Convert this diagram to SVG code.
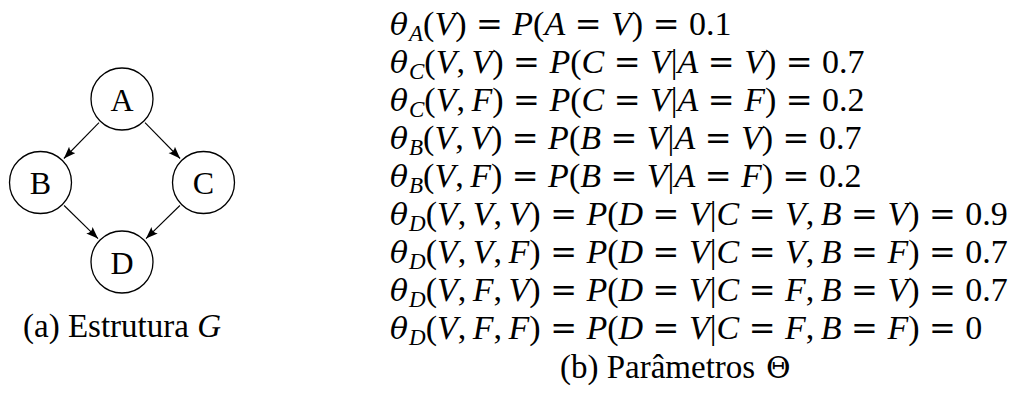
<svg xmlns="http://www.w3.org/2000/svg" width="1021" height="402" viewBox="0 0 1021 402">
<style>
  text { font-family: "Liberation Serif", "Times New Roman", serif; fill: #000; }
  .node circle { fill: #fff; stroke: #000; stroke-width: 1.3; }
  .node text { font-size: 32px; text-anchor: middle; }
  .edge { stroke: #000; stroke-width: 1.1; fill: none; marker-end: url(#arrow); }
  .m { font-size: 34px; word-spacing: 1px; }
  .i { font-style: italic; }
  .g { font-family: "DejaVu Serif", serif; font-style: italic; font-size: 30px; }
  .e { font-family: "DejaVu Serif", serif; font-size: 32px; }
  .s { font-size: 23px; font-style: italic; }
  .cap { font-size: 33px; }
  .th { font-family: "DejaVu Serif", serif; font-size: 30px; }
</style>
<defs>
  <marker id="arrow" markerUnits="userSpaceOnUse" markerWidth="13" markerHeight="10" refX="12" refY="4.5" orient="auto">
    <path d="M0,0 Q3.5,4.5 0,9 L12,4.5 Z" fill="#000"/>
  </marker>
</defs>
<g id="edges">
  <line class="edge" x1="99" y1="122.6" x2="63.9" y2="158.5"/>
  <line class="edge" x1="145" y1="122.6" x2="180.1" y2="158.5"/>
  <line class="edge" x1="64.1" y1="205.5" x2="98" y2="238.6"/>
  <line class="edge" x1="179.9" y1="205.5" x2="146" y2="238.6"/>
</g>
<g id="node-A" class="node"><circle cx="122" cy="99" r="31"/><text x="122" y="110.5">A</text></g>
<g id="node-B" class="node"><circle cx="40.5" cy="182.5" r="31"/><text x="40.5" y="194">B</text></g>
<g id="node-C" class="node"><circle cx="203.5" cy="182.5" r="31"/><text x="203.5" y="194">C</text></g>
<g id="node-D" class="node"><circle cx="122" cy="262" r="31"/><text x="122" y="273.5">D</text></g>
<text id="caption-a" class="cap" x="122" y="337" text-anchor="middle">(a) Estrutura <tspan class="i">G</tspan></text>
<g id="parameters">
  <text class="g" x="390" y="35">θ</text>
  <text class="m" x="409" y="35"><tspan class="s" dy="6">A</tspan><tspan dy="-6">(</tspan><tspan class="i">V</tspan>) <tspan class="e">=</tspan> <tspan class="i">P</tspan>(<tspan class="i">A</tspan> <tspan class="e">=</tspan> <tspan class="i">V</tspan>) <tspan class="e">=</tspan> 0.1</text>
  <text class="g" x="390" y="73">θ</text>
  <text class="m" x="409" y="73"><tspan class="s" dy="6">C</tspan><tspan dy="-6">(</tspan><tspan class="i">V</tspan>,<tspan class="i" dx="6.5">V</tspan>) <tspan class="e">=</tspan> <tspan class="i">P</tspan>(<tspan class="i">C</tspan> <tspan class="e">=</tspan> <tspan class="i">V</tspan>|<tspan class="i">A</tspan> <tspan class="e">=</tspan> <tspan class="i">V</tspan>) <tspan class="e">=</tspan> 0.7</text>
  <text class="g" x="390" y="111">θ</text>
  <text class="m" x="409" y="111"><tspan class="s" dy="6">C</tspan><tspan dy="-6">(</tspan><tspan class="i">V</tspan>,<tspan class="i" dx="6.5">F</tspan>) <tspan class="e">=</tspan> <tspan class="i">P</tspan>(<tspan class="i">C</tspan> <tspan class="e">=</tspan> <tspan class="i">V</tspan>|<tspan class="i">A</tspan> <tspan class="e">=</tspan> <tspan class="i">F</tspan>) <tspan class="e">=</tspan> 0.2</text>
  <text class="g" x="390" y="149">θ</text>
  <text class="m" x="409" y="149"><tspan class="s" dy="6">B</tspan><tspan dy="-6">(</tspan><tspan class="i">V</tspan>,<tspan class="i" dx="6.5">V</tspan>) <tspan class="e">=</tspan> <tspan class="i">P</tspan>(<tspan class="i">B</tspan> <tspan class="e">=</tspan> <tspan class="i">V</tspan>|<tspan class="i">A</tspan> <tspan class="e">=</tspan> <tspan class="i">V</tspan>) <tspan class="e">=</tspan> 0.7</text>
  <text class="g" x="390" y="187">θ</text>
  <text class="m" x="409" y="187"><tspan class="s" dy="6">B</tspan><tspan dy="-6">(</tspan><tspan class="i">V</tspan>,<tspan class="i" dx="6.5">F</tspan>) <tspan class="e">=</tspan> <tspan class="i">P</tspan>(<tspan class="i">B</tspan> <tspan class="e">=</tspan> <tspan class="i">V</tspan>|<tspan class="i">A</tspan> <tspan class="e">=</tspan> <tspan class="i">F</tspan>) <tspan class="e">=</tspan> 0.2</text>
  <text class="g" x="390" y="225">θ</text>
  <text class="m" x="409" y="225"><tspan class="s" dy="6">D</tspan><tspan dy="-6">(</tspan><tspan class="i">V</tspan>,<tspan class="i" dx="6.5">V</tspan>,<tspan class="i" dx="6.5">V</tspan>) <tspan class="e">=</tspan> <tspan class="i">P</tspan>(<tspan class="i">D</tspan> <tspan class="e">=</tspan> <tspan class="i">V</tspan>|<tspan class="i">C</tspan> <tspan class="e">=</tspan> <tspan class="i">V</tspan>,<tspan class="i" dx="6.5">B</tspan> <tspan class="e">=</tspan> <tspan class="i">V</tspan>) <tspan class="e">=</tspan> 0.9</text>
  <text class="g" x="390" y="263">θ</text>
  <text class="m" x="409" y="263"><tspan class="s" dy="6">D</tspan><tspan dy="-6">(</tspan><tspan class="i">V</tspan>,<tspan class="i" dx="6.5">V</tspan>,<tspan class="i" dx="6.5">F</tspan>) <tspan class="e">=</tspan> <tspan class="i">P</tspan>(<tspan class="i">D</tspan> <tspan class="e">=</tspan> <tspan class="i">V</tspan>|<tspan class="i">C</tspan> <tspan class="e">=</tspan> <tspan class="i">V</tspan>,<tspan class="i" dx="6.5">B</tspan> <tspan class="e">=</tspan> <tspan class="i">F</tspan>) <tspan class="e">=</tspan> 0.7</text>
  <text class="g" x="390" y="301">θ</text>
  <text class="m" x="409" y="301"><tspan class="s" dy="6">D</tspan><tspan dy="-6">(</tspan><tspan class="i">V</tspan>,<tspan class="i" dx="6.5">F</tspan>,<tspan class="i" dx="6.5">V</tspan>) <tspan class="e">=</tspan> <tspan class="i">P</tspan>(<tspan class="i">D</tspan> <tspan class="e">=</tspan> <tspan class="i">V</tspan>|<tspan class="i">C</tspan> <tspan class="e">=</tspan> <tspan class="i">F</tspan>,<tspan class="i" dx="6.5">B</tspan> <tspan class="e">=</tspan> <tspan class="i">V</tspan>) <tspan class="e">=</tspan> 0.7</text>
  <text class="g" x="390" y="339">θ</text>
  <text class="m" x="409" y="339"><tspan class="s" dy="6">D</tspan><tspan dy="-6">(</tspan><tspan class="i">V</tspan>,<tspan class="i" dx="6.5">F</tspan>,<tspan class="i" dx="6.5">F</tspan>) <tspan class="e">=</tspan> <tspan class="i">P</tspan>(<tspan class="i">D</tspan> <tspan class="e">=</tspan> <tspan class="i">V</tspan>|<tspan class="i">C</tspan> <tspan class="e">=</tspan> <tspan class="i">F</tspan>,<tspan class="i" dx="6.5">B</tspan> <tspan class="e">=</tspan> <tspan class="i">F</tspan>) <tspan class="e">=</tspan> 0</text>
</g>
<g id="caption-b">
  <text class="cap" x="560" y="378">(b) Parâmetros</text>
  <text class="th" x="766" y="378">Θ</text>
</g>
</svg>
